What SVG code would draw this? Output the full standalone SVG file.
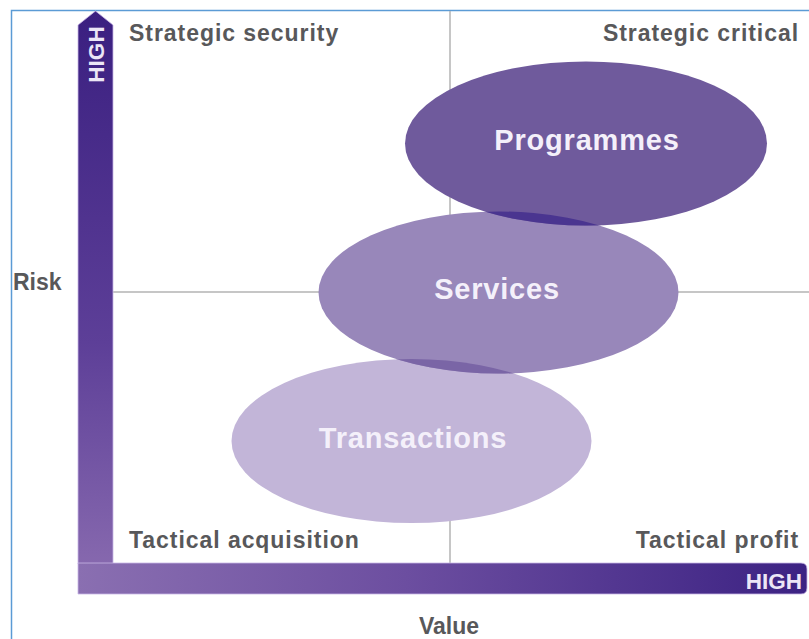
<svg xmlns="http://www.w3.org/2000/svg" width="809" height="639" viewBox="0 0 809 639">
  <style>
    .quad { font-family: "Liberation Sans", Arial, sans-serif; font-weight: bold; font-size: 23px; fill: #58585a; letter-spacing: 0.95px; }
    .axis { font-family: "Liberation Sans", Arial, sans-serif; font-weight: bold; font-size: 23px; fill: #58585a; }
    .high { font-family: "Liberation Sans", Arial, sans-serif; font-weight: bold; font-size: 22.5px; fill: #ece6f6; }
    .node { font-family: "Liberation Sans", Arial, sans-serif; font-weight: bold; font-size: 29px; fill: #f4f0fa; text-anchor: middle; letter-spacing: 0.8px; }
    .grid { stroke: #b3b3b3; stroke-width: 1.5; fill: none; }
  </style>
  <defs>
    <linearGradient id="gradV" x1="0" y1="0" x2="0" y2="1">
      <stop offset="0" stop-color="#3a1f80"/>
      <stop offset="0.6" stop-color="#5d3f98"/>
      <stop offset="1" stop-color="#8668ae"/>
    </linearGradient>
    <linearGradient id="gradH" x1="0" y1="0" x2="1" y2="0">
      <stop offset="0" stop-color="#8a6fb1"/>
      <stop offset="0.45" stop-color="#6c4ea0"/>
      <stop offset="1" stop-color="#3c2283"/>
    </linearGradient>
    <clipPath id="clipServices">
      <ellipse cx="498.5" cy="292.5" rx="180" ry="81"/>
    </clipPath>
    <clipPath id="clipTransactions">
      <ellipse cx="411.5" cy="441" rx="180" ry="82"/>
    </clipPath>
  </defs>

  <rect width="809" height="639" fill="#ffffff"/>
  <!-- outer frame -->
  <path d="M11.5,639 L11.5,10.5 L809,10.5" fill="none" stroke="#5b9bd5" stroke-width="1.5"/>

  <!-- quadrant dividers -->
  <g id="connectors">
    <line class="grid" x1="450" y1="11" x2="450" y2="564"/>
    <line class="grid" x1="112" y1="292" x2="809" y2="292"/>
  </g>

  <!-- axes -->
  <g id="axis-risk">
    <path d="M78,25 L95.5,11 L113,25 L113,564 L78,564 Z" fill="url(#gradV)" stroke="#c8b6e6" stroke-width="0.8"/>
    <text class="high" transform="translate(103.5,54.5) rotate(-90)" text-anchor="middle">HIGH</text>
  </g>
  <g id="axis-value">
    <path d="M78,563 L801,563 Q807,563 807,569 L807,588 Q807,594 801,594 L78,594 Z" fill="url(#gradH)" stroke="#c8b6e6" stroke-width="0.8"/>
    <text class="high" x="802" y="589" text-anchor="end">HIGH</text>
  </g>
  <text class="axis" x="13" y="290">Risk</text>
  <text class="axis" x="449" y="634" text-anchor="middle">Value</text>

  <!-- quadrant titles -->
  <text class="quad" x="129" y="41">Strategic security</text>
  <text class="quad" x="799" y="41" text-anchor="end">Strategic critical</text>
  <text class="quad" x="129" y="548">Tactical acquisition</text>
  <text class="quad" x="799" y="548" text-anchor="end">Tactical profit</text>

  <!-- categories -->
  <g id="transactions">
    <ellipse cx="411.5" cy="441" rx="180" ry="82" fill="#c2b5d8"/>
    <text class="node" x="413" y="448">Transactions</text>
  </g>
  <g id="services">
    <ellipse cx="498.5" cy="292.5" rx="180" ry="81" fill="#9887ba"/>
    <ellipse cx="498.5" cy="292.5" rx="180" ry="81" fill="#7a65a6" clip-path="url(#clipTransactions)"/>
    <text class="node" x="497" y="299">Services</text>
  </g>
  <g id="programmes">
    <ellipse cx="586" cy="143.5" rx="181" ry="82" fill="#6f5a9c"/>
    <ellipse cx="586" cy="143.5" rx="181" ry="82" fill="#4a3590" clip-path="url(#clipServices)"/>
    <text class="node" x="587" y="150">Programmes</text>
  </g>
</svg>
